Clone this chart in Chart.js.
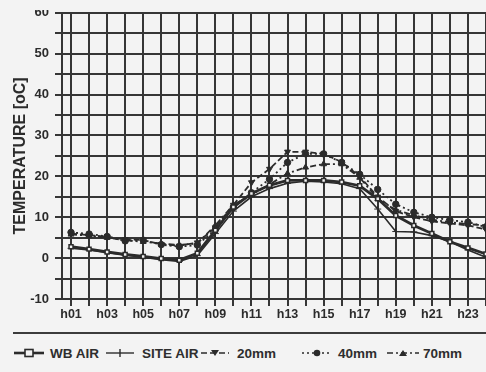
<!DOCTYPE html>
<html>
<head>
<meta charset="utf-8">
<script src="https://cdn.jsdelivr.net/npm/chart.js@4"></script>
<style>
    html, body { margin: 0; padding: 0; }
    body {
        width: 486px; height: 372px; overflow: hidden; position: relative;
        background: #f3f3f3; font-family: "Liberation Sans", Arial, sans-serif;
        color: #2e2e2e;
    }
    #plot-wrap { position: absolute; left: 0; top: 10px; width: 486px; height: 322px; overflow: hidden; }
    #plot-box { position: absolute; left: 0; top: -11px; width: 520px; height: 330px; }
    #rule { position: absolute; left: 13px; right: 0; top: 332px; height: 2px; background: #3c3c3c; }
    .legend-item { position: absolute; top: 345px; height: 16px; display: flex; align-items: center;
        font-weight: bold; font-size: 13.5px; white-space: nowrap; }
    .legend-item svg { margin-right: 4px; }
</style>
</head>
<body>
<div id="plot-wrap"><div id="plot-box"><canvas id="temp-chart"></canvas></div></div>
<div id="rule"></div>
<div id="legend"></div>
<script>
const hours = ['h01', 'h02', 'h03', 'h04', 'h05', 'h06', 'h07', 'h08', 'h09', 'h10', 'h11', 'h12',
    'h13', 'h14', 'h15', 'h16', 'h17', 'h18', 'h19', 'h20', 'h21', 'h22', 'h23', 'h24'];

const wbAir = [2.8, 2.2, 1.5, 0.9, 0.4, -0.1, -0.5, 1.2, 6.8, 12.5, 15.8, 17.8,
    19.0, 19.0, 19.0, 18.6, 17.7, 14.5, 10.4, 8.0, 6.0, 4.0, 2.5, 1.0];
const siteAir = [2.4, 2.0, 1.3, 0.7, 0.2, -0.4, -0.8, 0.6, 6.0, 11.5, 15.0, 17.0,
    18.3, 18.8, 18.6, 18.2, 17.0, 12.0, 6.5, 6.4, 5.5, 4.0, 2.0, 0.2];
const soil20 = [6.0, 5.6, 5.2, 4.6, 4.4, 3.4, 3.0, 3.8, 7.5, 13.0, 18.5, 21.8,
    26.0, 26.0, 25.5, 23.5, 20.0, 15.0, 11.5, 10.0, 9.0, 8.5, 8.0, 7.0];
const soil40 = [6.3, 5.9, 5.3, 4.2, 4.4, 3.3, 2.8, 3.2, 7.0, 12.5, 16.0, 19.3,
    23.4, 25.5, 25.5, 23.4, 20.5, 16.8, 13.2, 11.2, 10.0, 9.3, 8.8, 7.6];
const soil70 = [5.8, 5.5, 5.0, 4.4, 4.0, 3.6, 3.2, 3.6, 8.0, 13.0, 15.5, 18.0,
    20.7, 22.2, 23.0, 23.0, 19.7, 14.5, 11.8, 10.5, 9.4, 8.8, 8.3, 8.0];

const yMin = -10;
const yMax = 60;
const yStep = 5;

const ink = '#2b2b2b';
const gridInk = '#363636';

function series(label, data, extra) {
    return Object.assign({
        label: label,
        data: data,
        borderColor: ink,
        backgroundColor: ink,
        pointBorderColor: ink,
        pointBackgroundColor: ink,
        borderWidth: 1.8,
        pointRadius: 2.8,
        pointBorderWidth: 1,
        tension: 0,
        fill: false
    }, extra);
}

const ctx = document.getElementById('temp-chart').getContext('2d');
new Chart(ctx, {
    type: 'line',
    data: {
        labels: hours,
        datasets: [
            series('WB AIR', wbAir, { borderWidth: 2.8, pointStyle: 'rect', pointBackgroundColor: '#f3f3f3', pointBorderWidth: 1.5 }),
            series('SITE AIR', siteAir, { borderWidth: 1.6, pointStyle: 'cross', pointRadius: 3.5 }),
            series('20mm', soil20, { borderDash: [6, 3], pointStyle: 'triangle', pointRotation: 180, pointRadius: 3.4 }),
            series('40mm', soil40, { borderDash: [2, 3], pointStyle: 'circle', pointRadius: 3.2 }),
            series('70mm', soil70, { borderDash: [6, 3, 2, 3], pointStyle: 'triangle', pointRadius: 3.4 })
        ]
    },
    options: {
        responsive: true,
        maintainAspectRatio: false,
        animation: false,
        layout: { padding: { top: 7, right: 25, left: 0, bottom: 0 } },
        plugins: {
            legend: { display: false },
            tooltip: { enabled: false }
        },
        scales: {
            x: {
                offset: true,
                grid: { offset: false, color: gridInk, lineWidth: 2, tickLength: 7, drawTicks: true },
                border: { display: true, color: gridInk, width: 2 },
                ticks: {
                    autoSkip: false,
                    maxRotation: 0,
                    padding: 1,
                    color: ink,
                    font: { family: 'Liberation Sans', size: 12.5, weight: 'bold' },
                    callback: function (value, index) {
                        return index % 2 === 0 ? this.getLabelForValue(value) : '';
                    }
                },
                afterFit: function (scale) { scale.height = 30; }
            },
            y: {
                min: yMin,
                max: yMax,
                grid: { color: gridInk, lineWidth: 2, tickLength: 7 },
                border: { display: true, color: gridInk, width: 2 },
                ticks: {
                    stepSize: yStep,
                    padding: 6,
                    color: ink,
                    font: { family: 'Liberation Sans', size: 13, weight: 'bold' },
                    callback: function (value) { return value % 10 === 0 ? value : ''; }
                },
                title: {
                    display: true,
                    text: 'TEMPERATURE [oC]',
                    color: ink,
                    padding: { top: 11, bottom: 0 },
                    font: { family: 'Liberation Sans', size: 16, weight: 'bold' }
                },
                afterFit: function (scale) { scale.width = 62; }
            }
        }
    }
});

// legend below the rule, drawn as html so the text stays text
const legendItems = [
    { label: 'WB AIR', left: 14, svg: '<line x1="0" y1="7" x2="30" y2="7" stroke="#2b2b2b" stroke-width="2.6"/><rect x="11" y="3.5" width="8" height="7" fill="#f3f3f3" stroke="#2b2b2b" stroke-width="1.6"/>' },
    { label: 'SITE AIR', left: 106, svg: '<line x1="0" y1="7" x2="28" y2="7" stroke="#2b2b2b" stroke-width="1.4"/><line x1="14" y1="3" x2="14" y2="11" stroke="#2b2b2b" stroke-width="1.4"/>' },
    { label: '20mm', left: 201, svg: '<line x1="0" y1="7" x2="28" y2="7" stroke="#2b2b2b" stroke-width="1.6" stroke-dasharray="6 3"/><polygon points="10,4 18,4 14,10" fill="#2b2b2b"/>' },
    { label: '40mm', left: 302, svg: '<line x1="0" y1="7" x2="30" y2="7" stroke="#2b2b2b" stroke-width="1.6" stroke-dasharray="2 3"/><circle cx="15" cy="7" r="3.3" fill="#2b2b2b"/>' },
    { label: '70mm', left: 387, svg: '<line x1="0" y1="7" x2="32" y2="7" stroke="#2b2b2b" stroke-width="1.6" stroke-dasharray="6 3 2 3"/><polygon points="12,10 20,10 16,4" fill="#2b2b2b"/>' }
];

const legendEl = document.getElementById('legend');
legendItems.forEach(item => {
    const div = document.createElement('div');
    div.className = 'legend-item';
    div.style.left = item.left + 'px';
    div.innerHTML = `<svg width="32" height="14">${item.svg}</svg><span>${item.label}</span>`;
    legendEl.appendChild(div);
});
</script>
</body>
</html>
